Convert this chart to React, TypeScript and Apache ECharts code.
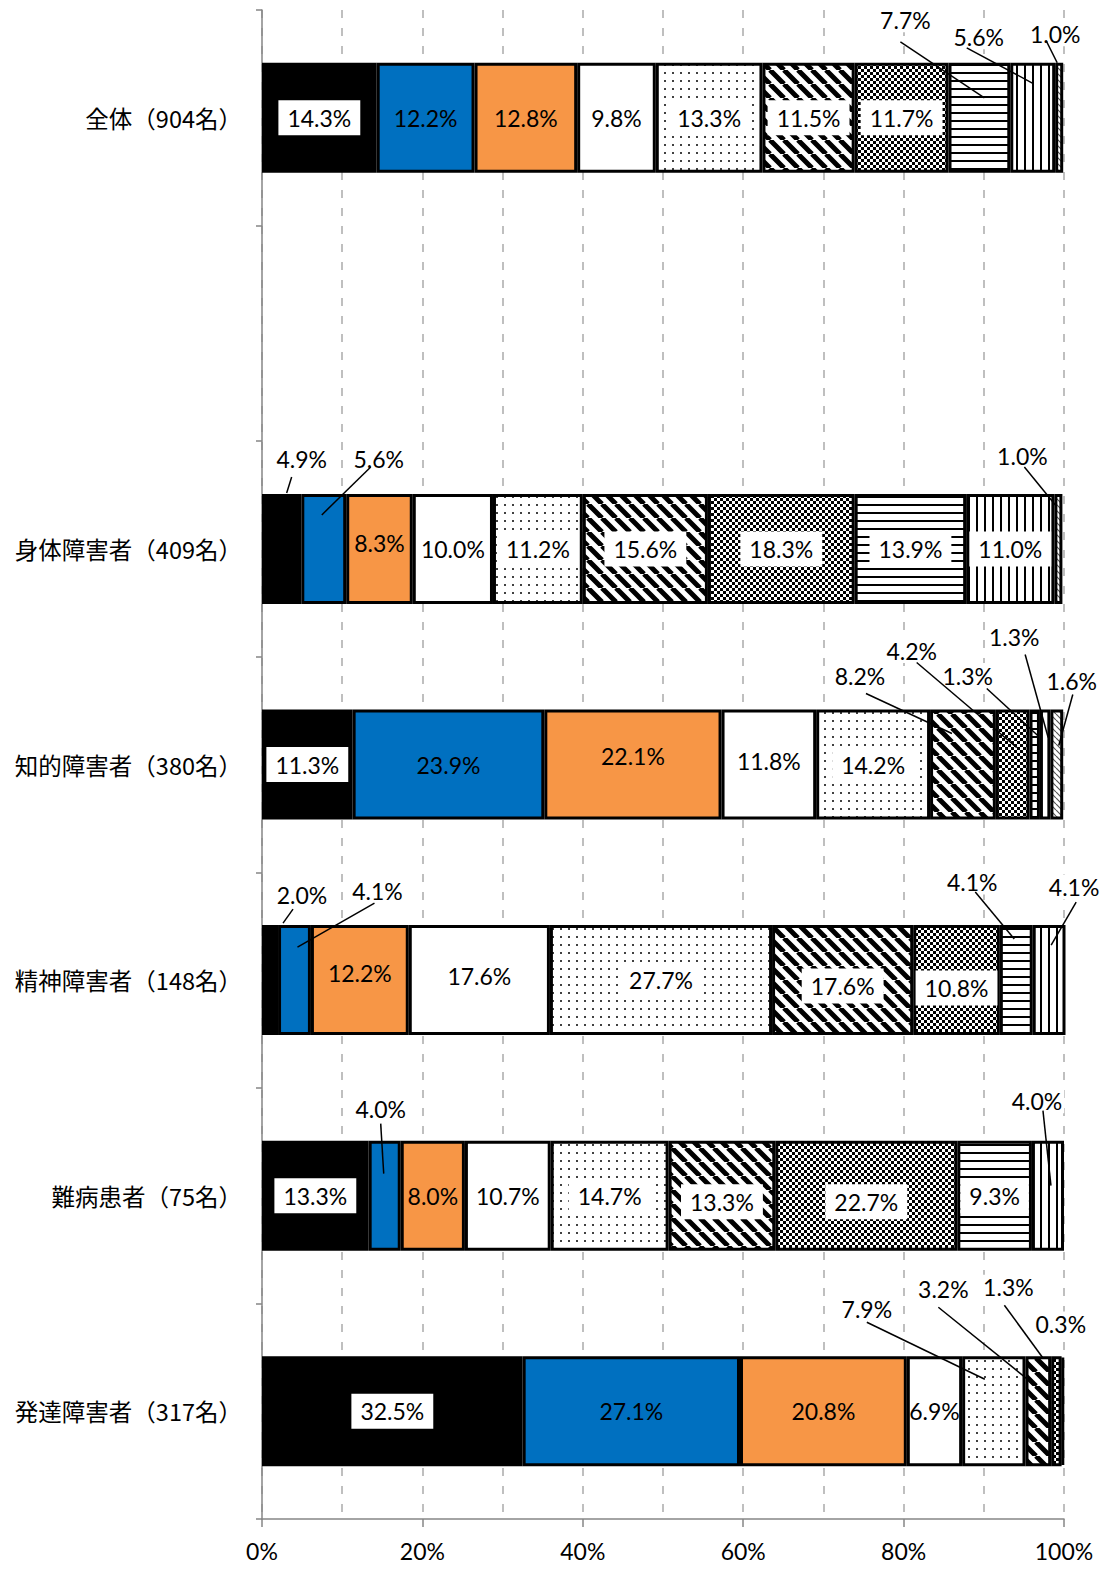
import React, { useEffect, useRef } from 'react';
import * as echarts from 'echarts';

// ---------- data ----------
const categories = [
  '全体（904名）',
  '',
  '身体障害者（409名）',
  '知的障害者（380名）',
  '精神障害者（148名）',
  '難病患者（75名）',
  '発達障害者（317名）',
];
const seriesNames = ['区分1', '区分2', '区分3', '区分4', '区分5', '区分6', '区分7', '区分8', '区分9', '区分10'];
const s1 = [14.3, null, 4.9, 11.3, 2.0, 13.3, 32.5];
const s2 = [12.2, null, 5.6, 23.9, 4.1, 4.0, 27.1];
const s3 = [12.8, null, 8.3, 22.1, 12.2, 8.0, 20.8];
const s4 = [9.8, null, 10.0, 11.8, 17.6, 10.7, 6.9];
const s5 = [13.3, null, 11.2, 14.2, 27.7, 14.7, 7.9];
const s6 = [11.5, null, 15.6, 8.2, 17.6, 13.3, 3.2];
const s7 = [11.7, null, 18.3, 4.2, 10.8, 22.7, 1.3];
const s8 = [7.7, null, 13.9, 1.3, 4.1, 9.3, null];
const s9 = [5.6, null, 11.0, 1.3, 4.1, 4.0, null];
const s10 = [1.0, null, 1.0, 1.6, null, null, 0.3];
const seriesValues = [s1, s2, s3, s4, s5, s6, s7, s8, s9, s10];
const xTickValues = [0, 20, 40, 60, 80, 100];

// ---------- label layout (offsets relative to the segment's top-centre) ----------
type Callout = { s: number; c: number; label: [number, number]; from?: [number, number]; to?: [number, number] };
const callouts: Callout[] = [
  { s: 7, c: 0, label: [-74, -43], from: [-79, -21], to: [5, 35] },
  { s: 8, c: 0, label: [-54, -26], from: [-66, -15], to: [1, 21] },
  { s: 9, c: 0, label: [-4, -29], from: [-13, -22], to: [-2, 0] },
  { s: 0, c: 2, label: [20, -35], from: [10, -17], to: [5, -1] },
  { s: 1, c: 2, label: [55, -35], from: [47, -27], to: [-2, 21] },
  { s: 9, c: 2, label: [-36, -38], from: [-34, -27], to: [-3, 11] },
  { s: 5, c: 3, label: [-103, -34], from: [-97, -16], to: [-11, 24] },
  { s: 6, c: 3, label: [-101, -59], from: [-96, -47], to: [4, 38] },
  { s: 7, c: 3, label: [-67, -34], from: [-48, -21], to: [3, 26] },
  { s: 8, c: 3, label: [-31, -73], from: [-20, -55], to: [3, 28] },
  { s: 9, c: 3, label: [15, -29], from: [16, -15], to: [2, 36] },
  { s: 0, c: 4, label: [32, -30], from: [23, -16], to: [13, -2] },
  { s: 1, c: 4, label: [83, -34], from: [80, -22], to: [3, 22] },
  { s: 7, c: 4, label: [-44, -43], from: [-41, -33], to: [-2, 14] },
  { s: 8, c: 4, label: [25, -38], from: [27, -23], to: [2, 20] },
  { s: 1, c: 5, label: [-4, -32], from: [-4, -17], to: [-1, 33] },
  { s: 8, c: 5, label: [-11, -40], from: [-5, -30], to: [3, 45] },
  { s: 4, c: 6, label: [-127, -47], from: [-127, -34], to: [-9, 23] },
  { s: 5, c: 6, label: [-95, -67], from: [-100, -49], to: [-1, 31] },
  { s: 6, c: 6, label: [-48, -69], from: [-52, -51], to: [-14, 1] },
  { s: 9, c: 6, label: [-2, -32] },
];
const insideShift: [number, number, number][] = [
  [2, 2, -6], [2, 3, -9], [3, 3, -4], [2, 4, -7], [3, 4, -4], [5, 4, 6], [6, 4, 8], [5, 5, 6], [6, 5, 6],
];
const BAR_WIDTH = 110;

function tile(w: number, h: number, draw: (ctx: CanvasRenderingContext2D) => void) {
  const c = document.createElement('canvas');
  c.width = w;
  c.height = h;
  const ctx = c.getContext('2d')!;
  ctx.fillStyle = '#ffffff';
  ctx.fillRect(0, 0, w, h);
  draw(ctx);
  return { image: c, repeat: 'repeat', imageWidth: w, imageHeight: h } as any;
}

function makeFills() {
  const dotted = tile(8, 8, (ctx) => {
    ctx.fillStyle = '#404040';
    ctx.fillRect(0, 0, 2, 2);
  });
  const diag = tile(14, 14, (ctx) => {
    ctx.strokeStyle = '#000';
    ctx.lineWidth = 5;
    ctx.beginPath();
    for (const k of [-14, 0, 14]) {
      ctx.moveTo(k, 0);
      ctx.lineTo(k + 14, 14);
    }
    ctx.stroke();
  });
  const checker = tile(6, 6, (ctx) => {
    ctx.fillStyle = '#000';
    ctx.fillRect(0, 0, 3, 3);
    ctx.fillRect(3, 3, 3, 3);
  });
  const horiz = tile(8, 8, (ctx) => {
    ctx.fillStyle = '#000';
    ctx.fillRect(0, 0, 8, 2);
  });
  const vert = tile(8, 8, (ctx) => {
    ctx.fillStyle = '#000';
    ctx.fillRect(0, 0, 2, 8);
  });
  const fine = tile(6, 6, (ctx) => {
    ctx.strokeStyle = '#555';
    ctx.lineWidth = 1.2;
    ctx.beginPath();
    for (const k of [-6, 0, 6]) {
      ctx.moveTo(k, 0);
      ctx.lineTo(k + 6, 6);
    }
    ctx.stroke();
  });
  return ['#000000', '#0070C0', '#F79646', '#FFFFFF', dotted, diag, checker, horiz, vert, fine];
}

const boxed = [true, false, false, false, true, true, true, true, true, true];

export default function App() {
  const ref = useRef<HTMLDivElement>(null);
  useEffect(() => {
    if (!ref.current) return;
    const chart = echarts.init(ref.current, undefined, { renderer: 'svg' });
    const fills = makeFills();
    const calloutMap: Record<string, Callout> = {};
    callouts.forEach((c) => (calloutMap[`${c.s}-${c.c}`] = c));
    const shiftMap: Record<string, number> = {};
    insideShift.forEach(([s, c, d]) => (shiftMap[`${s}-${c}`] = d));

    const labelLayout = (p: any) => {
      const key = `${p.seriesIndex}-${p.dataIndex}`;
      const r = p.rect;
      const cx = r.x + r.width / 2;
      const ty = r.y;
      const co = calloutMap[key];
      if (co) {
        return {
          x: cx + co.label[0],
          y: ty + co.label[1],
          align: 'center',
          verticalAlign: 'middle',
        };
      }
      const sh = shiftMap[key];
      return sh ? { dy: sh } : {};
    };

    const series: any[] = seriesValues.map((vals, s) => ({
      name: seriesNames[s],
      type: 'bar',
      stack: 'total',
      barWidth: BAR_WIDTH,
      xAxisIndex: 0,
      itemStyle: { color: fills[s], borderColor: '#000', borderWidth: 3 },
      label: {
        show: true,
        position: 'inside',
        formatter: (p: any) => Number(p.value).toFixed(1) + '%',
        fontFamily: 'Lato',
        fontSize: 23,
        color: '#000',
        backgroundColor: boxed[s] ? '#fff' : 'transparent',
        padding: [6, 9],
      },
      labelLayout,
      data: vals.map((v, c) => {
        if (v == null) return '-';
        const co = calloutMap[`${s}-${c}`];
        const item: any = { value: v };
        if (co) item.label = { backgroundColor: '#fff', padding: [1, 2] };
        return item;
      }),
    }));

    // leader lines: segment extents come from the stacked values, pixels from the axes
    const lineCallouts = callouts.filter((c) => c.from && c.to);
    const lineData = lineCallouts.map((co, i) => {
      let start = 0;
      for (let k = 0; k < co.s; k++) start += seriesValues[k][co.c] ?? 0;
      const end = start + (seriesValues[co.s][co.c] ?? 0);
      return [start, end, co.c, i];
    });
    series.push({
      type: 'custom',
      name: 'leader',
      xAxisIndex: 0,
      z: 5,
      silent: true,
      clip: false,
      encode: { x: [0, 1], y: 2 },
      data: lineData,
      renderItem: (_params: any, api: any) => {
        const a = api.coord([api.value(0), api.value(2)]);
        const b = api.coord([api.value(1), api.value(2)]);
        const co = lineCallouts[api.value(3)];
        const cx = (a[0] + b[0]) / 2;
        const ty = a[1] - BAR_WIDTH / 2;
        return {
          type: 'polyline',
          shape: {
            points: [
              [cx + co.from![0], ty + co.from![1]],
              [cx + co.to![0], ty + co.to![1]],
            ],
          },
          style: { stroke: '#000', lineWidth: 1.5, fill: null },
        };
      },
    });

    const option: any = {
      animation: false,
      backgroundColor: '#fff',
      grid: { left: 262, right: 45, top: 10, bottom: 50, containLabel: false },
      xAxis: [
        {
          type: 'value',
          min: 0,
          max: 100,
          interval: 20,
          position: 'bottom',
          axisLine: { show: true, lineStyle: { color: '#868686', width: 1.5 } },
          axisTick: { show: true, length: 8, lineStyle: { color: '#868686', width: 1.5 } },
          axisLabel: {
            formatter: (v: number) => (xTickValues.includes(v) ? v + '%' : ''),
            fontFamily: 'Lato',
            fontSize: 23,
            color: '#000',
            margin: 20,
          },
          splitLine: { show: false },
        },
        {
          type: 'value',
          min: 0,
          max: 100,
          interval: 10,
          position: 'bottom',
          axisLine: { show: false },
          axisTick: { show: false },
          axisLabel: { show: false },
          splitLine: { show: true, lineStyle: { color: '#BFBFBF', width: 2, type: [8, 10] } },
        },
      ],
      yAxis: {
        type: 'category',
        inverse: true,
        data: categories,
        axisLine: { show: true, lineStyle: { color: '#868686', width: 1.5 } },
        axisTick: { show: true, length: 6, lineStyle: { color: '#868686', width: 1.5 } },
        axisLabel: {
          fontFamily: "'Noto Sans CJK JP'",
          fontSize: 23.5,
          color: '#000',
          margin: 20,
        },
        splitLine: { show: false },
      },
      series,
    };
    chart.setOption(option);
    return () => chart.dispose();
  }, []);
  return (
    <div
      ref={ref}
      style={{ position: 'absolute', left: 0, top: 0, width: 1109, height: 1569, background: '#fff' }}
    />
  );
}
